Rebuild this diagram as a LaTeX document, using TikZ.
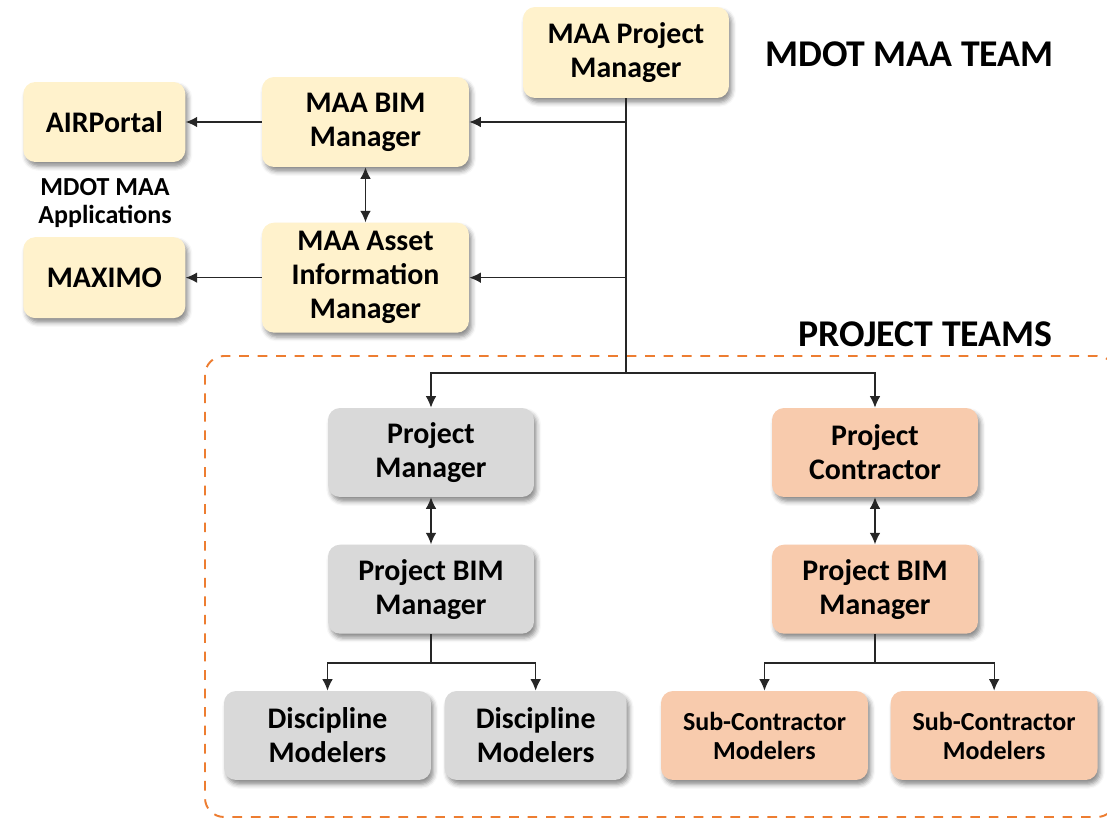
\documentclass[tikz,border=0pt]{standalone}
\usepackage{fontspec}
\setmainfont{Carlito}
\usepackage{xcolor}
\usetikzlibrary{positioning,arrows.meta,shadows.blur}

\definecolor{maayellow}{HTML}{FFF2CC}
\definecolor{pmgrey}{HTML}{D9D9D9}
\definecolor{ctorange}{HTML}{F8CBAD}
\definecolor{frameorange}{HTML}{ED7D31}
\definecolor{linegrey}{HTML}{262626}

\begin{document}
\begin{tikzpicture}[
    x=0.02cm, y=-0.02cm,
    box/.style={rectangle, rounded corners=0.24cm, align=center, inner sep=2pt,
        minimum width=4.12cm, minimum height=1.78cm,
        font=\bfseries\fontsize{17}{19.4}\selectfont,
        blur shadow={shadow xshift=1.5pt, shadow yshift=-2.5pt, shadow blur radius=2.5pt, shadow opacity=45}},
    maabox/.style={box, fill=maayellow},
    pmbox/.style={box, fill=pmgrey},
    ctbox/.style={box, fill=ctorange},
    arrow/.style={-{Latex[length=6.5pt,width=6pt]}, line width=0.75pt, draw=linegrey},
    dbl/.style={arrow, {Latex[length=6.5pt,width=6pt]}-{Latex[length=6.5pt,width=6pt]}},
    title/.style={anchor=west, font=\bfseries\fontsize{21.5}{24}\selectfont},
    frame/.style={draw=frameorange, line width=1.1pt, dash pattern=on 5.5pt off 5pt, rounded corners=0.38cm}
]
\useasboundingbox (0,0) rectangle (1107,820);

% Team headings
\node[title] (mdotteam) at (759,54) {MDOT MAA TEAM};
\node[title] (projteams) at (792,334) {PROJECT TEAMS};

% Project teams frame
\draw[frame] (205,356) rectangle (1116,817);

% MDOT MAA side
\node[maabox, minimum height=1.82cm] (mpm) at (626,52.5) {MAA Project\\Manager};
\node[maabox, minimum width=4.14cm, minimum height=1.8cm] (bimmgr) at (365.5,122) {MAA BIM\\Manager};
\node[maabox, minimum width=4.14cm, minimum height=2.2cm, below=1.1cm of bimmgr] (assetmgr) {MAA Asset\\Information\\Manager};
\node[maabox, minimum width=3.24cm, minimum height=1.6cm, left=1.52cm of bimmgr] (airportal) {AIRPortal};
\node[maabox, minimum width=3.24cm, minimum height=1.62cm, left=1.52cm of assetmgr] (maximo) {MAXIMO};
\node[align=center, font=\bfseries\fontsize{14.8}{16}\selectfont] (apps) at (105,203) {MDOT MAA\\Applications};

% Owner project team
\node[pmbox] (pm) at (431,452.5) {Project\\Manager};
\node[pmbox, below=0.94cm of pm] (pbim) {Project BIM\\Manager};
\node[pmbox, minimum width=4.14cm] (dm1) at (327.5,735.5) {Discipline\\Modelers};
\node[pmbox, minimum width=3.64cm, right=0.26cm of dm1] (dm2) {Discipline\\Modelers};

% Contractor team
\node[ctbox] (pc) at (875,452.5) {Project\\Contractor};
\node[ctbox, below=0.94cm of pc] (cbim) {Project BIM\\Manager};
\node[ctbox, minimum width=4.14cm, font=\bfseries\fontsize{14.8}{16.5}\selectfont] (sc1) at (764.5,735.5) {Sub-Contractor\\Modelers};
\node[ctbox, minimum width=4.14cm, font=\bfseries\fontsize{14.8}{16.5}\selectfont, right=0.44cm of sc1] (sc2) {Sub-Contractor\\Modelers};

% Connectors
\coordinate (splitlevel) at (0,373);
\coordinate (split) at (mpm.south |- splitlevel);
\draw[arrow, -] (mpm.south) -- (split);
\draw[arrow] (mpm.south |- bimmgr.east) -- (bimmgr.east);
\draw[arrow] (mpm.south |- assetmgr.east) -- (assetmgr.east);
\draw[arrow] (bimmgr.west) -- (airportal.east);
\draw[arrow] (assetmgr.west) -- (assetmgr.west -| maximo.east);
\draw[dbl] (bimmgr) -- (assetmgr);

\draw[arrow] (split) -| (pm.north);
\draw[arrow] (split) -| (pc.north);
\draw[dbl] (pm) -- (pbim);
\draw[dbl] (pc) -- (cbim);

\draw[arrow] (pbim.south) -- ++(0,29) -| (dm1.north);
\draw[arrow] (pbim.south) -- ++(0,29) -| (dm2.north);
\draw[arrow] (cbim.south) -- ++(0,29) -| (sc1.north);
\draw[arrow] (cbim.south) -- ++(0,29) -| (sc2.north);

\end{tikzpicture}
\end{document}
